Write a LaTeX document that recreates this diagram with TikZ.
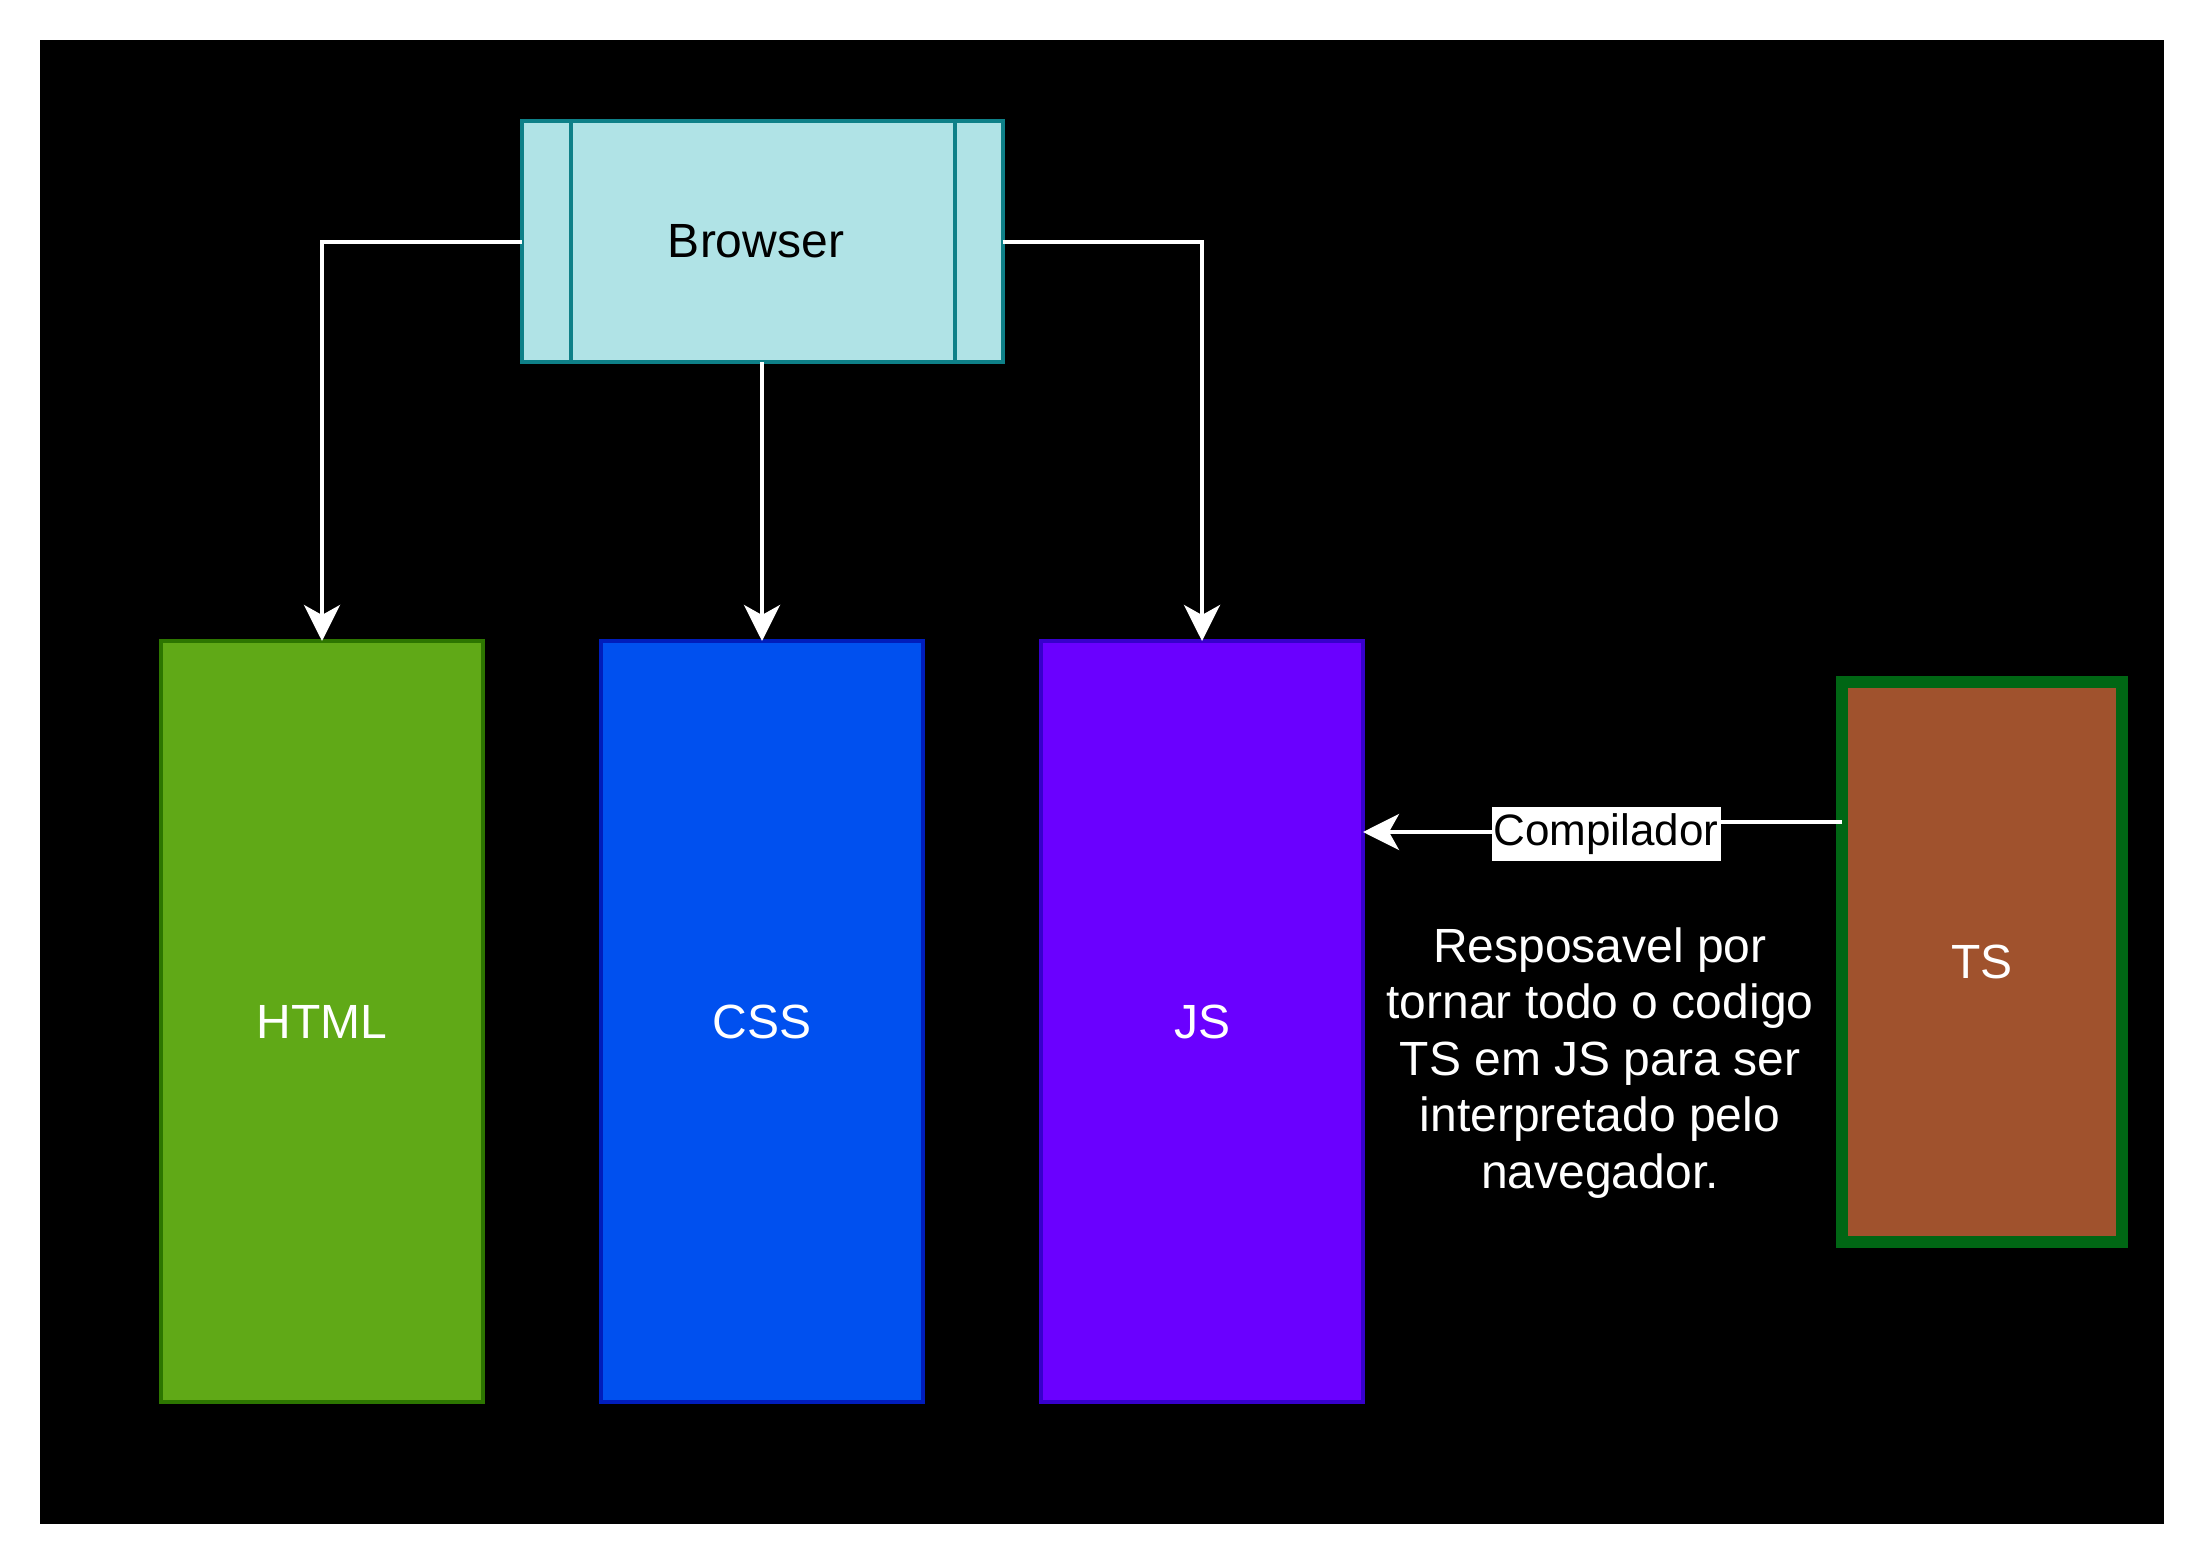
\documentclass[tikz,border=0pt]{standalone}
\usepackage{fontspec}
\setmainfont{Liberation Sans}
\usetikzlibrary{arrows.meta}
\definecolor{brfill}{HTML}{B0E3E6}
\definecolor{brline}{HTML}{0E8088}
\definecolor{htmlfill}{HTML}{60A917}
\definecolor{htmlline}{HTML}{2D7600}
\definecolor{cssfill}{HTML}{0050EF}
\definecolor{cssline}{HTML}{001DBC}
\definecolor{jsfill}{HTML}{6A00FF}
\definecolor{jsline}{HTML}{3700CC}
\definecolor{tsfill}{HTML}{A0522D}
\definecolor{tsline}{HTML}{006614}
\tikzset{
  box/.style={rectangle, outer sep=0pt, inner sep=0pt, line width=2pt, font=\fontsize{24pt}{28pt}\selectfont},
  conn/.style={draw=white, line width=2pt, -{Stealth[length=18pt, width=18pt, inset=5pt]}},
  plainline/.style={draw=white, line width=2pt},
}
\begin{document}
\begin{tikzpicture}[x=0.5pt, y=-0.5pt]
\useasboundingbox (0,0) rectangle (2208,1568);
\fill[white] (0,0) rectangle (2208,1568);
\fill[black] (40,40) rectangle (2164,1524);

\node[box, fill=brfill, draw=brline, minimum width=240.5pt, minimum height=120.5pt] (browser) at (762,241.5) {};
\node[text=black, font=\fontsize{24pt}{28pt}\selectfont] (brlabel) at (756,241.5) {Browser};
\draw[brline, line width=2pt] ([xshift=24.5pt]browser.north west) -- ([xshift=24.5pt]browser.south west);
\draw[brline, line width=2pt] ([xshift=-24pt]browser.north east) -- ([xshift=-24pt]browser.south east);

\node[box, fill=htmlfill, draw=htmlline, minimum width=161pt, minimum height=380.5pt, text=white] (html) at (322,1021.5) {HTML};
\node[box, fill=cssfill, draw=cssline, minimum width=161pt, minimum height=380.5pt, text=white] (css) at (762,1021.5) {CSS};
\node[box, fill=jsfill, draw=jsline, minimum width=161pt, minimum height=380.5pt, text=white] (js) at (1202,1021.5) {JS};
\node[box, fill=tsfill, draw=tsline, line width=6pt, minimum width=140pt, minimum height=280pt, text=white] (ts) at (1982,962) {TS};

\draw[conn] (browser.west) -| (html.north);
\draw[conn] (browser.south) -- (css.north);
\draw[conn] (browser.east) -| (js.north);

\path (ts.west) ++(0,-140) coordinate (tsout);
\path (js.east) ++(0,-189.5) coordinate (jsin);
\coordinate (bend1) at (1606,822);
\coordinate (bend2) at (1606,832);
\draw[plainline] (tsout) -- (bend1) -- (bend2);
\draw[conn] (bend2) -- (jsin);
\node[fill=white, text=black, inner xsep=1pt, inner ysep=3pt, font=\fontsize{22pt}{26pt}\selectfont] (lbl) at (1606,834) {Compilador};

\node[text=white, align=center, font=\fontsize{24pt}{28.25pt}\selectfont] (desc) at (1600,1063) {Resposavel por\\tornar todo o codigo\\TS em JS para ser\\interpretado pelo\\navegador.};
\end{tikzpicture}
\end{document}
